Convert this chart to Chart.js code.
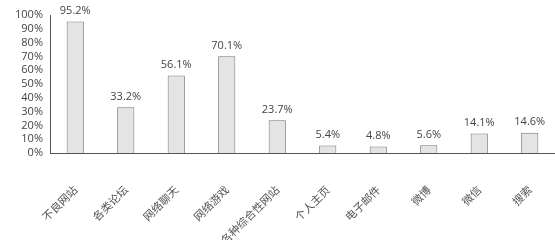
<!DOCTYPE html>
<html><head><meta charset="utf-8">
<script src="https://cdn.jsdelivr.net/npm/chart.js@4"></script>
<style>html,body{margin:0;padding:0;background:#fff}#wrap{width:555px;height:240px}</style>
</head><body><div id="wrap"><canvas id="c"></canvas></div>
<script>
const categories = ["不良网站","各类论坛","网络聊天","网络游戏","各种综合性网站","个人主页","电子邮件","微博","微信","搜索"];
const values = [95.2, 33.2, 56.1, 70.1, 23.7, 5.4, 4.8, 5.6, 14.1, 14.6];
const valueLabels = ["95.2%","33.2%","56.1%","70.1%","23.7%","5.4%","4.8%","5.6%","14.1%","14.6%"];

const labelPlugin = {
  id: 'valLabels',
  afterDatasetsDraw(chart) {
    const ctx = chart.ctx;
    const meta = chart.getDatasetMeta(0);
    ctx.save();
    ctx.font = '11px "Open Sans", "DejaVu Sans", sans-serif';
    ctx.fillStyle = '#444';
    ctx.textAlign = 'center';
    ctx.textBaseline = 'bottom';
    meta.data.forEach((bar, i) => {
      ctx.fillText(valueLabels[i], bar.x, bar.y - 5);
    });
    ctx.restore();
  }
};

new Chart(document.getElementById('c'), {
  type: 'bar',
  data: {
    labels: categories,
    datasets: [{
      data: values,
      backgroundColor: '#e4e4e4',
      borderColor: '#777',
      borderWidth: 1,
      categoryPercentage: 1,
      barPercentage: 0.34
    }]
  },
  options: {
    responsive: true,
    maintainAspectRatio: false,
    animation: false,
    layout: { padding: { top: 15, right: 0, left: 0, bottom: 0 } },
    plugins: { legend: { display: false }, tooltip: { enabled: false } },
    scales: {
      x: {
        grid: { display: false, drawTicks: false },
        border: { color: '#555', width: 1 },
        ticks: {
          color: '#555',
          autoSkip: false,
          font: { family: '"Noto Sans CJK SC", serif', size: 11 },
          minRotation: 45, maxRotation: 45, padding: 30
        },
        afterFit(scale) { scale.height = 87; scale.paddingRight = 0; scale.paddingLeft = 0; }
      },
      y: {
        min: 0, max: 100,
        grid: { display: false, drawTicks: false },
        border: { color: '#555', width: 1 },
        ticks: {
          stepSize: 10,
          autoSkip: false,
          color: '#444',
          padding: 7,
          font: { family: '"Open Sans", "DejaVu Sans", sans-serif', size: 11 },
          callback: v => v + '%'
        },
        afterFit(scale) { scale.width = 50; }
      }
    }
  },
  plugins: [labelPlugin]
});
</script></body></html>
